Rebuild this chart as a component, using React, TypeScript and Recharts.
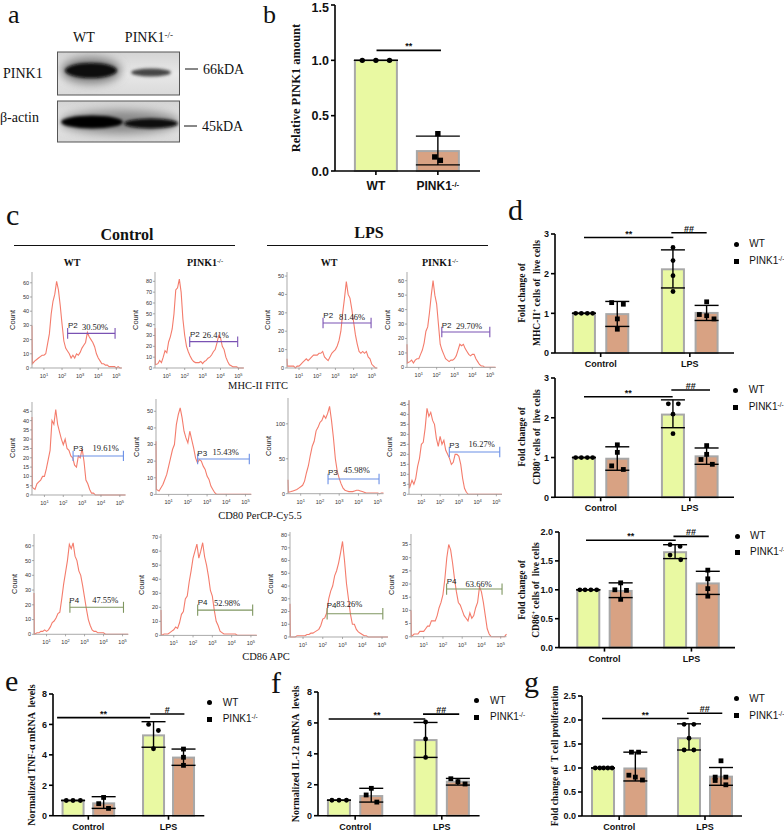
import React from "react";
import {
  Bar,
  Cell,
  ComposedChart,
  ErrorBar,
  Line,
  LineChart,
  ReferenceLine,
  Scatter,
  XAxis,
  YAxis,
} from "recharts";

const SERIF = "'Liberation Serif', serif";
const SANS = "'Liberation Sans', sans-serif";
const WT_FILL = "#e9f9a2";
const KO_FILL = "#d8a283";
const BAR_EDGE = "#a8a8a8";
const HIST_RED = "#f47c6c";
const GATE_PURPLE = "#7a52b3";
const GATE_BLUE = "#6a8fe6";
const GATE_GREEN = "#7f9660";

// flow cytometry: shared log10 bins, first two are the spike at the left edge
const histBins = [
  0.34, 0.36, 0.5, 0.6, 0.7, 0.8, 0.9,
  1.0, 1.1, 1.2, 1.3, 1.4, 1.5, 1.6, 1.7, 1.8, 1.9,
  2.0, 2.1, 2.2, 2.3, 2.4, 2.5, 2.6, 2.7, 2.8, 2.9,
  3.0, 3.1, 3.2, 3.3, 3.4, 3.5, 3.6, 3.7, 3.8, 3.9,
  4.0, 4.1, 4.2, 4.3, 4.4, 4.5, 4.6, 4.7, 4.8, 4.9,
  5.0, 5.1, 5.2, 5.3,
];
const mhcCtlWt = [30, 3, 5, 6, 7, 8, 9, 9, 10, 17, 24, 38, 47, 52, 61, 55, 44, 31, 19, 14, 12, 10, 7, 9, 7, 10, 9, 11, 14, 16, 18, 25, 22, 20, 18, 15, 10, 7, 5, 3, 3, 2, 2, 1, 1, 1, 1, 0, 1, 0, 0];
const mhcCtlKo = [37, 3, 4, 7, 5, 10, 16, 14, 24, 29, 36, 50, 72, 74, 82, 70, 45, 30, 20, 15, 11, 8, 6, 5, 5, 5, 6, 4, 6, 7, 9, 10, 12, 15, 17, 23, 30, 28, 20, 17, 10, 6, 3, 2, 1, 1, 1, 0, 0, 0, 0];
const mhcLpsWt = [5, 1, 1, 1, 1, 0, 1, 1, 2, 3, 4, 5, 4, 5, 6, 7, 7, 7, 8, 8, 9, 6, 5, 4, 6, 8, 9, 10, 12, 15, 20, 30, 38, 47, 40, 38, 32, 25, 18, 13, 9, 8, 9, 8, 9, 6, 5, 2, 1, 0, 0];
const mhcLpsKo = [16, 3, 4, 5, 3, 5, 6, 6, 9, 12, 17, 25, 28, 38, 50, 60, 50, 44, 30, 16, 12, 9, 6, 5, 4, 5, 5, 6, 8, 12, 16, 15, 16, 13, 11, 9, 8, 9, 9, 6, 4, 2, 1, 1, 0, 0, 0, 0, 0, 0, 0];
const cd80CtlWt = [42, 4, 3, 6, 7, 8, 10, 10, 14, 19, 24, 40, 38, 46, 38, 34, 30, 27, 30, 25, 24, 21, 20, 16, 15, 21, 20, 25, 18, 8, 6, 3, 1, 1, 0, 0, 0, 0, 0, 0, 0, 0, 0, 0, 0, 0, 0, 0, 0, 0, 0];
const cd80CtlKo = [32, 3, 2, 4, 6, 9, 12, 17, 22, 27, 30, 42, 48, 52, 46, 38, 34, 31, 38, 33, 28, 22, 19, 21, 20, 17, 15, 11, 9, 5, 3, 1, 0, 0, 0, 0, 0, 0, 0, 0, 0, 0, 0, 0, 0, 0, 0, 0, 0, 0, 0];
const cd80LpsWt = [20, 2, 3, 4, 5, 6, 8, 10, 12, 18, 30, 40, 55, 68, 75, 90, 95, 102, 105, 112, 108, 115, 125, 105, 80, 50, 32, 22, 14, 8, 5, 4, 3, 3, 3, 4, 5, 5, 4, 3, 2, 1, 1, 1, 1, 1, 1, 1, 0, 1, 1];
const cd80LpsKo = [47, 3, 7, 5, 8, 14, 18, 25, 26, 33, 43, 39, 41, 37, 35, 28, 24, 29, 25, 27, 22, 20, 18, 15, 16, 20, 20, 19, 15, 8, 3, 1, 0, 0, 0, 0, 0, 0, 0, 0, 0, 0, 0, 0, 0, 0, 0, 0, 0, 0, 0];
const cd86CtlWt = [28, 0, 1, 1, 2, 2, 3, 2, 3, 5, 8, 9, 11, 14, 15, 24, 34, 42, 50, 61, 58, 62, 53, 50, 43, 40, 33, 25, 17, 10, 6, 3, 2, 2, 1, 1, 1, 1, 0, 0, 0, 0, 0, 0, 0, 0, 0, 0, 0, 0, 0];
const cd86CtlKo = [18, 0, 1, 1, 1, 2, 3, 4, 6, 5, 9, 15, 17, 26, 28, 38, 46, 55, 60, 65, 55, 60, 66, 56, 50, 42, 32, 28, 18, 10, 7, 3, 2, 1, 1, 1, 1, 1, 1, 1, 0, 0, 0, 0, 0, 0, 0, 0, 0, 0, 0];
const cd86LpsWt = [26, 0, 0, 0, 1, 1, 1, 1, 1, 2, 2, 3, 3, 4, 5, 6, 9, 14, 15, 19, 30, 36, 40, 48, 52, 58, 66, 75, 60, 42, 30, 18, 10, 10, 6, 4, 3, 2, 1, 1, 0, 0, 0, 0, 0, 0, 0, 0, 0, 0, 0];
const cd86LpsKo = [10, 0, 1, 1, 1, 2, 2, 2, 3, 4, 4, 6, 6, 6, 8, 11, 13, 16, 22, 30, 35, 33, 28, 22, 17, 13, 12, 10, 8, 7, 6, 9, 7, 8, 11, 13, 19, 17, 13, 8, 3, 1, 0, 0, 0, 0, 0, 0, 0, 0, 1];

const tens = (max: number) => Array.from({ length: max / 10 + 1 }, (_, i) => i * 10);
const fives = (max: number) => Array.from({ length: max / 5 + 1 }, (_, i) => i * 5);

// panel b
const bValues = [1, 0.18];
const bLow = [1, 0.055];
const bHigh = [1, 0.315];
const bOffsets = [[-0.22, 0, 0.22], [0, -0.05, 0.04]];
const bPoints = [[1, 1, 1], [0.337, 0.127, 0.096]];

// panel d, MHC-II
const mhcValues = [1, 0.98, 2.11, 1.01];
const mhcLow = [1, 0.67, 1.64, 0.82];
const mhcHigh = [1, 1.3, 2.6, 1.2];
const mhcOffsets = [[-0.25, -0.08, 0.1, 0.26], [-0.17, 0.18, 0, 0], [0, 0, 0, 0], [0, -0.22, 0, 0.22]];
const mhcPoints = [[1, 1, 1, 1], [1.27, 1.23, 0.86, 0.6], [2.66, 2.33, 1.95, 1.55], [1.29, 0.97, 0.94, 0.86]];

// panel d, CD80
const cd80Values = [1, 0.97, 2.08, 1.03];
const cd80Low = [1, 0.68, 1.75, 0.83];
const cd80High = [1, 1.27, 2.45, 1.24];
const cd80Offsets = [[-0.25, -0.08, 0.1, 0.26], [0, 0, -0.17, 0.18], [-0.14, 0.16, 0, 0], [0, 0, -0.17, 0.17]];
const cd80Points = [[1, 1, 1, 1], [1.32, 1.13, 0.79, 0.7], [2.35, 2.35, 2.09, 1.6], [1.3, 1.08, 0.95, 0.83]];

// panel d, CD86
const cd86Values = [1, 0.98, 1.65, 1.11];
const cd86Low = [1, 0.865, 1.54, 0.92];
const cd86High = [1, 1.12, 1.78, 1.32];
const cd86Offsets = [[-0.26, -0.1, 0.08, 0.26], [0, -0.18, 0.18, 0], [-0.155, 0.155, -0.155, 0.175], [0, 0, 0, 0]];
const cd86Points = [[1, 1, 1, 1], [1.12, 1.0, 0.99, 0.835], [1.78, 1.75, 1.6, 1.52], [1.34, 1.19, 1.02, 0.89]];

// panel e
const tnfValues = [1, 0.81, 5.28, 3.82];
const tnfLow = [1, 0.48, 4.5, 3.31];
const tnfHigh = [1, 1.25, 6.18, 4.38];
const tnfOffsets = [[-0.22, 0, 0.24], [0, -0.16, 0.16], [-0.16, 0.16, 0], [0, 0, 0]];
const tnfPoints = [[1, 1, 1], [1.2, 0.79, 0.48], [6.0, 5.6, 4.4], [4.38, 3.84, 3.31]];

// panel f
const il12Values = [1, 1.27, 4.89, 2.2];
const il12Low = [1, 0.88, 3.77, 1.98];
const il12High = [1, 1.77, 6.03, 2.41];
const il12Offsets = [[-0.22, 0, 0.23], [0, -0.16, 0.17], [0, 0, 0], [-0.22, 0, 0.22]];
const il12Points = [[1, 1, 1], [1.77, 1.34, 0.88], [6.06, 4.96, 3.77], [2.39, 2.2, 2.05]];

// panel g
const tcellValues = [1, 0.99, 1.62, 0.82];
const tcellLow = [1, 0.73, 1.375, 0.64];
const tcellHigh = [1, 1.33, 1.92, 1.01];
const tcellOffsets = [[-0.24, -0.1, 0.02, 0.15, 0.28], [-0.12, 0.1, -0.2, 0, 0.22], [-0.15, 0.15, 0, -0.15, 0.15], [0, -0.18, 0.15, -0.18, 0.15]];
const tcellPoints = [[1, 1, 1, 1, 1], [1.33, 1.33, 0.85, 0.81, 0.75], [1.91, 1.91, 1.62, 1.375, 1.375], [1.15, 0.81, 0.81, 0.74, 0.65]];

type TxtProps = {
  x: number;
  y: number;
  size: number;
  font?: string;
  bold?: boolean;
  anchor?: "start" | "middle";
  rotate?: boolean;
  color?: string;
  children: React.ReactNode;
};

function Txt({ x, y, size, font = SERIF, bold, anchor = "middle", rotate, color = "#111", children }: TxtProps) {
  const shift = anchor === "middle" ? "-50%" : "0";
  return (
    <div
      style={{
        position: "absolute",
        left: x,
        top: y,
        fontFamily: font,
        fontSize: size,
        fontWeight: bold ? 700 : 400,
        color,
        lineHeight: 1,
        whiteSpace: "pre",
        transform: `translate(${shift}, -50%)${rotate ? " rotate(-90deg)" : ""}`,
      }}
    >
      {children}
    </div>
  );
}

const Sup = ({ children }: { children: React.ReactNode }) => (
  <sup style={{ fontSize: "0.65em", lineHeight: 0, verticalAlign: "0.45em" }}>{children}</sup>
);

function Legend({ x, y1, y2, textX }: { x: number; y1: number; y2: number; textX: number }) {
  return (
    <>
      <div style={{ position: "absolute", left: x - 2.5, top: y1 - 2.5, width: 5, height: 5, borderRadius: "50%", background: "#000" }} />
      <div style={{ position: "absolute", left: x - 2.5, top: y2 - 2.5, width: 5, height: 5, background: "#000" }} />
      <Txt x={textX} y={y1} size={10} font={SANS} anchor="start">WT</Txt>
      <Txt x={textX} y={y2} size={10} font={SANS} anchor="start">PINK1<Sup>-/-</Sup></Txt>
    </>
  );
}

type BarPanelProps = {
  axisX: number;
  topY: number;
  zeroY: number;
  axisEnd: number;
  slots: number[];
  domainX: [number, number];
  maxY: number;
  ticksY: number[];
  decimals: number;
  values: number[];
  low: number[];
  high: number[];
  offsets: number[][];
  points: number[][];
  sig: { x1: number; x2: number; y: number; text: string }[];
  labels?: string[];
  barSize?: number;
  fontSize?: number;
  yFontSize?: number;
  labelDy?: number;
  topTickNudge?: number;
  capWidth?: number;
};

function BarPanel({
  axisX, topY, zeroY, axisEnd, slots, domainX, maxY, ticksY, decimals, values, low, high, offsets, points, sig,
  labels = ["Control", "LPS"], barSize = 22, fontSize = 9, yFontSize = 9, labelDy = 8, topTickNudge = 0, capWidth = 12,
}: BarPanelProps) {
  const rows = values.map((v, i) => ({ slot: slots[i], value: v, err: [v - low[i], high[i] - v] }));
  const toPoints = (i: number) => points[i].map((v, j) => ({ slot: slots[i] + offsets[i][j], value: v }));
  const wtPts = values.flatMap((_, i) => (i % 2 === 0 ? toPoints(i) : []));
  const koPts = values.flatMap((_, i) => (i % 2 === 1 ? toPoints(i) : []));
  const ticksX = slots.length === 4 ? [(slots[0] + slots[1]) / 2, (slots[2] + slots[3]) / 2] : slots;
  const r = barSize > 30 ? 2.7 : 2.4;

  const renderXTick = ({ x, y, index }: any) => {
    const label: string = labels[index] ?? "";
    const isKo = label.endsWith("-/-");
    return (
      <text x={x} y={y + labelDy} textAnchor="middle" fontFamily={SANS} fontWeight={700} fontSize={fontSize} fill="#111">
        {isKo ? "PINK1" : label}
        {isKo && <tspan dy={-3.5} fontSize={fontSize * 0.65}>-/-</tspan>}
      </text>
    );
  };
  const renderYTick = ({ x, y, payload }: any) => (
    <text
      x={x}
      y={y + yFontSize * 0.36 + (payload.value === maxY ? topTickNudge : 0)}
      textAnchor="end"
      fontFamily={SANS}
      fontWeight={700}
      fontSize={yFontSize}
      fill="#111"
    >
      {Number(payload.value).toFixed(decimals)}
    </text>
  );
  // the number axis squeezes bars to the point spacing, so keep the drawn width fixed around the centre
  const renderBar = (p: any) => (
    <rect x={p.x + p.width / 2 - barSize / 2} y={p.y} width={barSize} height={p.height} fill={p.fill} stroke={BAR_EDGE} strokeWidth={2} />
  );

  return (
    <ComposedChart
      width={axisEnd - axisX + 40}
      height={zeroY - topY + 40}
      data={rows}
      margin={{ top: 10, right: 10, left: 0, bottom: 0 }}
      style={{ position: "absolute", left: axisX - 30, top: topY - 10 }}
    >
      <XAxis
        type="number"
        dataKey="slot"
        domain={domainX}
        allowDataOverflow
        ticks={ticksX}
        interval={0}
        height={30}
        tickSize={4}
        tick={renderXTick}
        axisLine={{ stroke: "#000", strokeWidth: 1.6 }}
        tickLine={{ stroke: "#000", strokeWidth: 1.6 }}
      />
      <YAxis
        dataKey="value"
        width={30}
        domain={[0, maxY]}
        ticks={ticksY}
        interval={0}
        tickSize={4}
        tick={renderYTick}
        axisLine={{ stroke: "#000", strokeWidth: 1.6 }}
        tickLine={{ stroke: "#000", strokeWidth: 1.6 }}
      />
      <Bar dataKey="value" shape={renderBar} isAnimationActive={false}>
        {rows.map((_, i) => (
          <Cell key={i} fill={i % 2 === 0 ? WT_FILL : KO_FILL} />
        ))}
        <ErrorBar dataKey="err" width={capWidth} stroke="#000" strokeWidth={1.4} isAnimationActive={false} />
      </Bar>
      <Scatter
        data={wtPts}
        isAnimationActive={false}
        shape={(p: any) => <circle cx={p.cx} cy={p.cy} r={r} fill="#000" />}
      />
      <Scatter
        data={koPts}
        isAnimationActive={false}
        shape={(p: any) => <rect x={p.cx - r} y={p.cy - r} width={r * 2} height={r * 2} fill="#000" />}
      />
      {sig.map((s, i) => (
        <ReferenceLine
          key={i}
          segment={[{ x: s.x1, y: s.y }, { x: s.x2, y: s.y }]}
          stroke="#000"
          strokeWidth={1.6}
          ifOverflow="visible"
          label={{ value: s.text, position: "top", offset: 1, fontFamily: SANS, fontWeight: 700, fontSize: 9, fill: "#111" }}
        />
      ))}
    </ComposedChart>
  );
}

type HistProps = {
  left: number;
  top: number;
  zeroY: number;
  decade: number;
  maxY: number;
  ticksY: number[];
  counts: number[];
  gateY: number;
  gateX: [number, number];
  gateColor: string;
  gateName: string;
  nameX: number;
  nameY: number;
  pct: string;
  pctX: number;
  pctY: number;
};

const histRows = (counts: number[]) => histBins.map((b, i) => ({ bin: b, count: counts[i] }));

function Histogram({ left, top, zeroY, decade, maxY, ticksY, counts, gateY, gateX, gateColor, gateName, nameX, nameY, pct, pctX, pctY }: HistProps) {
  const capH = maxY * 0.055;
  const xTick = ({ x, y, payload }: any) => (
    <text x={x} y={y + 6} textAnchor="middle" fontFamily={SANS} fontSize={5.5} fill="#333">
      10<tspan dy={-2} fontSize={4}>{payload.value}</tspan>
    </text>
  );
  return (
    <>
      <LineChart
        width={decade * 4.96 + 30}
        height={zeroY - top + 16}
        data={histRows(counts)}
        margin={{ top: 0, right: 6, left: 0, bottom: 0 }}
        style={{ position: "absolute", left: left - 24, top }}
      >
        <XAxis
          type="number"
          dataKey="bin"
          domain={[0.34, 5.3]}
          ticks={[1, 2, 3, 4, 5]}
          interval={0}
          height={16}
          tickSize={2}
          tick={xTick}
          axisLine={{ stroke: "#aaa", strokeWidth: 1 }}
          tickLine={{ stroke: "#888", strokeWidth: 0.7 }}
        />
        <YAxis
          width={24}
          domain={[0, maxY]}
          ticks={ticksY}
          interval={0}
          tickSize={2}
          tickMargin={1}
          tick={{ fontFamily: SANS, fontSize: 5.5, fill: "#333" }}
          axisLine={{ stroke: "#aaa", strokeWidth: 1 }}
          tickLine={{ stroke: "#888", strokeWidth: 0.7 }}
        />
        <Line dataKey="count" type="linear" dot={false} stroke={HIST_RED} strokeWidth={1.1} isAnimationActive={false} />
        <ReferenceLine segment={[{ x: gateX[0], y: gateY }, { x: gateX[1], y: gateY }]} stroke={gateColor} strokeWidth={1.1} />
        <ReferenceLine segment={[{ x: gateX[0], y: gateY - capH }, { x: gateX[0], y: gateY + capH }]} stroke={gateColor} strokeWidth={1.1} />
        <ReferenceLine segment={[{ x: gateX[1], y: gateY - capH }, { x: gateX[1], y: gateY + capH }]} stroke={gateColor} strokeWidth={1.1} />
      </LineChart>
      <Txt x={left - 19} y={(top + zeroY) / 2} size={7.5} font={SANS} rotate color="#222">Count</Txt>
      <Txt x={nameX} y={nameY} size={8} font={SANS} anchor="start" color="#222">{gateName}</Txt>
      <Txt x={pctX} y={pctY} size={8.5} color="#222">{pct}</Txt>
    </>
  );
}

function Blot() {
  return (
    <svg width={200} height={150} style={{ position: "absolute", left: 0, top: 0 }}>
      <defs>
        <filter id="soft" x="-20%" y="-60%" width="140%" height="220%">
          <feGaussianBlur stdDeviation="1.6" />
        </filter>
        <filter id="halo" x="-30%" y="-100%" width="160%" height="300%">
          <feGaussianBlur stdDeviation="5" />
        </filter>
        <linearGradient id="bg" x1="0" y1="0" x2="0" y2="1">
          <stop offset="0" stopColor="#d4d4d4" />
          <stop offset="0.5" stopColor="#e8e8e8" />
          <stop offset="1" stopColor="#dadada" />
        </linearGradient>
        <clipPath id="box1"><rect x={57.5} y={52} width={122} height={43} /></clipPath>
        <clipPath id="box2"><rect x={57.5} y={101} width={122} height={41} /></clipPath>
      </defs>
      <rect x={57.5} y={52} width={122} height={43} fill="url(#bg)" stroke="#555" />
      <rect x={57.5} y={101} width={122} height={41} fill="url(#bg)" stroke="#555" />
      <g clipPath="url(#box1)">
        <ellipse cx={91} cy={70.5} rx={30} ry={13} fill="#777" filter="url(#halo)" />
        <ellipse cx={91} cy={70.5} rx={26} ry={7.5} fill="#080808" filter="url(#soft)" />
        <ellipse cx={151} cy={72.5} rx={20} ry={4} fill="#444" filter="url(#soft)" />
      </g>
      <g clipPath="url(#box2)">
        <ellipse cx={120} cy={122} rx={60} ry={12} fill="#888" filter="url(#halo)" />
        <ellipse cx={92} cy={122} rx={31} ry={6.5} fill="#060606" filter="url(#soft)" />
        <ellipse cx={151} cy={123.5} rx={27} ry={5} fill="#0a0a0a" filter="url(#soft)" />
      </g>
      <line x1={185} x2={198} y1={69} y2={69} stroke="#111" strokeWidth={1} />
      <line x1={184} x2={197} y1={126} y2={126} stroke="#111" strokeWidth={1} />
    </svg>
  );
}

const GROUP_COORDS = { d: [1, 2, 3.67, 4.68], d3: [1, 2, 3.68, 4.69], e: [1, 2, 3.63, 4.61], f: [1, 2, 3.68, 4.68], g: [1, 2, 3.66, 4.65] };

export default function App() {
  return (
    <div style={{ position: "absolute", left: 0, top: 0, width: 784, height: 831, background: "#fff", overflow: "hidden" }}>
      {/* panel letters */}
      <Txt x={8} y={14.5} size={26} anchor="start">a</Txt>
      <Txt x={263} y={14.5} size={26} anchor="start">b</Txt>
      <Txt x={6} y={215} size={30} anchor="start">c</Txt>
      <Txt x={508} y={210} size={30} anchor="start">d</Txt>
      <Txt x={5} y={681} size={30} anchor="start">e</Txt>
      <Txt x={271} y={683} size={30} anchor="start">f</Txt>
      <Txt x={524} y={682} size={30} anchor="start">g</Txt>

      {/* panel a */}
      <Blot />
      <Txt x={84} y={38} size={14}>WT</Txt>
      <Txt x={149} y={38} size={14}>PINK1<Sup>-/-</Sup></Txt>
      <Txt x={3} y={74} size={14} anchor="start">PINK1</Txt>
      <Txt x={0} y={118} size={14} anchor="start">β-actin</Txt>
      <Txt x={203} y={70} size={14} anchor="start">66kDA</Txt>
      <Txt x={202} y={127} size={14} anchor="start">45kDA</Txt>

      {/* panel b */}
      <BarPanel
        axisX={335}
        topY={5}
        zeroY={171}
        axisEnd={480}
        slots={[1, 2]}
        domainX={[0.34, 2.68]}
        maxY={1.5}
        ticksY={[0, 0.5, 1, 1.5]}
        decimals={1}
        values={bValues}
        low={bLow}
        high={bHigh}
        offsets={bOffsets}
        points={bPoints}
        sig={[{ x1: 1.01, x2: 2.05, y: 1.09, text: "**" }]}
        labels={["WT", "PINK1-/-"]}
        barSize={42}
        fontSize={12}
        yFontSize={12.5}
        labelDy={13}
        topTickNudge={2.5}
        capWidth={22}
      />
      <Txt x={296} y={88} size={12.5} bold rotate>Relative PINK1 amount</Txt>

      {/* panel c headings */}
      <Txt x={127} y={235} size={16} bold>Control</Txt>
      <Txt x={369} y={233} size={16} bold>LPS</Txt>
      <div style={{ position: "absolute", left: 14, top: 244.5, width: 221, height: 1.5, background: "#111" }} />
      <div style={{ position: "absolute", left: 267, top: 244.5, width: 221, height: 1.5, background: "#111" }} />
      <Txt x={72} y={263} size={10} bold>WT</Txt>
      <Txt x={205} y={263} size={10} bold>PINK1<Sup>-/-</Sup></Txt>
      <Txt x={329} y={263} size={10} bold>WT</Txt>
      <Txt x={440} y={263} size={10} bold>PINK1<Sup>-/-</Sup></Txt>

      {/* panel c, MHC-II row */}
      <Histogram left={32.3} top={271.7} zeroY={367.7} decade={18.1} maxY={67.6} ticksY={tens(60)} counts={mhcCtlWt}
        gateY={24.4} gateX={[2.31, 4.93]} gateColor={GATE_PURPLE} gateName="P2" nameX={68} nameY={326} pct="30.50%" pctX={95} pctY={326.5} />
      <Histogram left={155.2} top={271.7} zeroY={367.7} decade={17.9} maxY={88.6} ticksY={tens(80)} counts={mhcCtlKo}
        gateY={24.3} gateX={[2.28, 4.96]} gateColor={GATE_PURPLE} gateName="P2" nameX={190} nameY={335} pct="26.41%" pctX={215.7} pctY={334.5} />
      <Histogram left={287.3} top={271.7} zeroY={367.7} decade={18.2} maxY={52.2} ticksY={tens(50)} counts={mhcLpsWt}
        gateY={24.5} gateX={[2.32, 4.96]} gateColor={GATE_PURPLE} gateName="P2" nameX={323.3} nameY={316} pct="81.46%" pctX={352} pctY={316.7} />
      <Histogram left={406.9} top={272.3} zeroY={367.7} decade={17.85} maxY={66} ticksY={tens(60)} counts={mhcLpsKo}
        gateY={24.5} gateX={[2.29, 4.98]} gateColor={GATE_PURPLE} gateName="P2" nameX={441.7} nameY={326} pct="29.70%" pctX={469} pctY={325.5} />
      <Txt x={258} y={386} size={10.5}>MHC-II FITC</Txt>

      {/* panel c, CD80 row */}
      <Histogram left={32.3} top={401.7} zeroY={494.7} decade={18.85} maxY={50} ticksY={fives(45)} counts={cd80CtlWt}
        gateY={21} gateX={[2.52, 5.19]} gateColor={GATE_BLUE} gateName="P3" nameX={73.3} nameY={449} pct="19.61%" pctX={105.7} pctY={448.3} />
      <Histogram left={155.6} top={399.3} zeroY={494.7} decade={19.2} maxY={57.4} ticksY={tens(50)} counts={cd80CtlKo}
        gateY={21.3} gateX={[2.51, 5.2]} gateColor={GATE_BLUE} gateName="P3" nameX={197.3} nameY={453.7} pct="15.43%" pctX={225.7} pctY={452} />
      <Histogram left={288} top={398.3} zeroY={494} decade={19.25} maxY={137} ticksY={[0, 50, 100]} counts={cd80LpsWt}
        gateY={21} gateX={[2.42, 5.07]} gateColor={GATE_BLUE} gateName="P3" nameX={328} nameY={473} pct="45.98%" pctX={356.7} pctY={470} />
      <Histogram left={408.9} top={400} zeroY={494.3} decade={18.75} maxY={47.2} ticksY={fives(45)} counts={cd80LpsKo}
        gateY={21.2} gateX={[2.49, 5.18]} gateColor={GATE_BLUE} gateName="P3" nameX={449.3} nameY={446.3} pct="16.27%" pctX={481.7} pctY={444.3} />
      <Txt x={260} y={516} size={10.5}>CD80 PerCP-Cy5.5</Txt>

      {/* panel c, CD86 row */}
      <Histogram left={33.5} top={534} zeroY={634.3} decade={19} maxY={68} ticksY={tens(60)} counts={cd86CtlWt}
        gateY={18.3} gateX={[2.23, 5.05]} gateColor={GATE_GREEN} gateName="P4" nameX={69.3} nameY={601} pct="47.55%" pctX={105.3} pctY={600} />
      <Histogram left={160.9} top={534.3} zeroY={635.7} decade={19.3} maxY={72.2} ticksY={tens(70)} counts={cd86CtlKo}
        gateY={18} gateX={[2.24, 5.09]} gateColor={GATE_GREEN} gateName="P4" nameX={197.7} nameY={603.3} pct="52.98%" pctX={227} pctY={603} />
      <Histogram left={289.7} top={531.7} zeroY={636.7} decade={19.75} maxY={82.4} ticksY={tens(80)} counts={cd86LpsWt}
        gateY={18.3} gateX={[2.22, 5.04]} gateColor={GATE_GREEN} gateName="P4" nameX={326.7} nameY={606} pct="83.26%" pctX={349.3} pctY={604.3} />
      <Histogram left={411} top={534} zeroY={636.7} decade={19.25} maxY={39} ticksY={fives(35)} counts={cd86LpsKo}
        gateY={18.1} gateX={[2.19, 5.07]} gateColor={GATE_GREEN} gateName="P4" nameX={446.7} nameY={582.3} pct="63.66%" pctX={478.7} pctY={584} />
      <Txt x={266} y={657} size={10.5}>CD86 APC</Txt>

      {/* panel d */}
      <BarPanel
        axisX={555}
        topY={233.7}
        zeroY={352.7}
        axisEnd={734}
        slots={GROUP_COORDS.d}
        domainX={[0.13, 5.5]}
        maxY={3}
        ticksY={[0, 1, 2, 3]}
        decimals={0}
        values={mhcValues}
        low={mhcLow}
        high={mhcHigh}
        offsets={mhcOffsets}
        points={mhcPoints}
        sig={[{ x1: 1, x2: 3.68, y: 2.91, text: "**" }, { x1: 3.62, x2: 4.68, y: 3.03, text: "##" }]}
      />
      <Txt x={523} y={293} size={9.5} bold rotate>Fold change of</Txt>
      <Txt x={538} y={293} size={9.5} bold rotate>MHC-II<Sup>+</Sup> cells of  live cells</Txt>
      <Legend x={736} y1={244.3} y2={261} textX={749.3} />

      <BarPanel
        axisX={555}
        topY={378}
        zeroY={497.3}
        axisEnd={734}
        slots={GROUP_COORDS.d}
        domainX={[0.13, 5.5]}
        maxY={3}
        ticksY={[0, 1, 2, 3]}
        decimals={0}
        values={cd80Values}
        low={cd80Low}
        high={cd80High}
        offsets={cd80Offsets}
        points={cd80Points}
        sig={[{ x1: 1, x2: 3.66, y: 2.53, text: "**" }, { x1: 3.62, x2: 4.78, y: 2.7, text: "##" }]}
      />
      <Txt x={523} y={437} size={9.5} bold rotate>Fold change of</Txt>
      <Txt x={538} y={437} size={9.5} bold rotate>CD80<Sup>+</Sup> cells of  live cells</Txt>
      <Legend x={735} y1={390} y2={407} textX={748.7} />

      <BarPanel
        axisX={559}
        topY={531.7}
        zeroY={647.3}
        axisEnd={735}
        slots={GROUP_COORDS.d3}
        domainX={[0.096, 5.53]}
        maxY={2}
        ticksY={[0, 0.5, 1, 1.5, 2]}
        decimals={1}
        values={cd86Values}
        low={cd86Low}
        high={cd86High}
        offsets={cd86Offsets}
        points={cd86Points}
        sig={[{ x1: 0.93, x2: 3.7, y: 1.856, text: "**" }, { x1: 3.63, x2: 4.72, y: 1.925, text: "##" }]}
      />
      <Txt x={523} y={590} size={9.5} bold rotate>Fold change of</Txt>
      <Txt x={537} y={590} size={9.5} bold rotate>CD86<Sup>+</Sup> cells of  live cells</Txt>
      <Legend x={737.3} y1={536} y2={552.3} textX={750} />

      {/* panel e */}
      <BarPanel
        axisX={52.7}
        topY={694}
        zeroY={815.7}
        axisEnd={204}
        slots={GROUP_COORDS.e}
        domainX={[0.346, 5.29]}
        maxY={8}
        ticksY={[0, 2, 4, 6, 8]}
        decimals={0}
        values={tnfValues}
        low={tnfLow}
        high={tnfHigh}
        offsets={tnfOffsets}
        points={tnfPoints}
        sig={[{ x1: 0.48, x2: 3.52, y: 6.45, text: "**" }, { x1: 3.52, x2: 4.64, y: 6.69, text: "#" }]}
        barSize={21}
      />
      <Txt x={31.7} y={755} size={10} bold rotate>Normalized TNF-α mRNA  levels</Txt>
      <Legend x={209.3} y1={702.7} y2={719.3} textX={222.7} />

      {/* panel f */}
      <BarPanel
        axisX={317.7}
        topY={692}
        zeroY={815.7}
        axisEnd={479.3}
        slots={GROUP_COORDS.f}
        domainX={[0.35, 5.35]}
        maxY={8}
        ticksY={[0, 2, 4, 6, 8]}
        decimals={0}
        values={il12Values}
        low={il12Low}
        high={il12High}
        offsets={il12Offsets}
        points={il12Points}
        sig={[{ x1: 0.68, x2: 3.67, y: 6.25, text: "**" }, { x1: 3.6, x2: 4.72, y: 6.57, text: "##" }]}
      />
      <Txt x={296} y={754} size={10} bold rotate>Normalized IL-12 mRNA  levels</Txt>
      <Legend x={476} y1={700.7} y2={717.3} textX={490} />

      {/* panel g */}
      <BarPanel
        axisX={581.7}
        topY={696}
        zeroY={816}
        axisEnd={741.7}
        slots={GROUP_COORDS.g}
        domainX={[0.35, 5.3]}
        maxY={2.5}
        ticksY={[0, 0.5, 1, 1.5, 2, 2.5]}
        decimals={1}
        values={tcellValues}
        low={tcellLow}
        high={tcellHigh}
        offsets={tcellOffsets}
        points={tcellPoints}
        sig={[{ x1: 0.97, x2: 3.65, y: 2.03, text: "**" }, { x1: 3.6, x2: 4.69, y: 2.14, text: "##" }]}
      />
      <Txt x={556} y={756} size={9.5} bold rotate>Fold change of  T cell proliferation</Txt>
      <Legend x={736} y1={698.7} y2={715.7} textX={749.3} />
    </div>
  );
}
